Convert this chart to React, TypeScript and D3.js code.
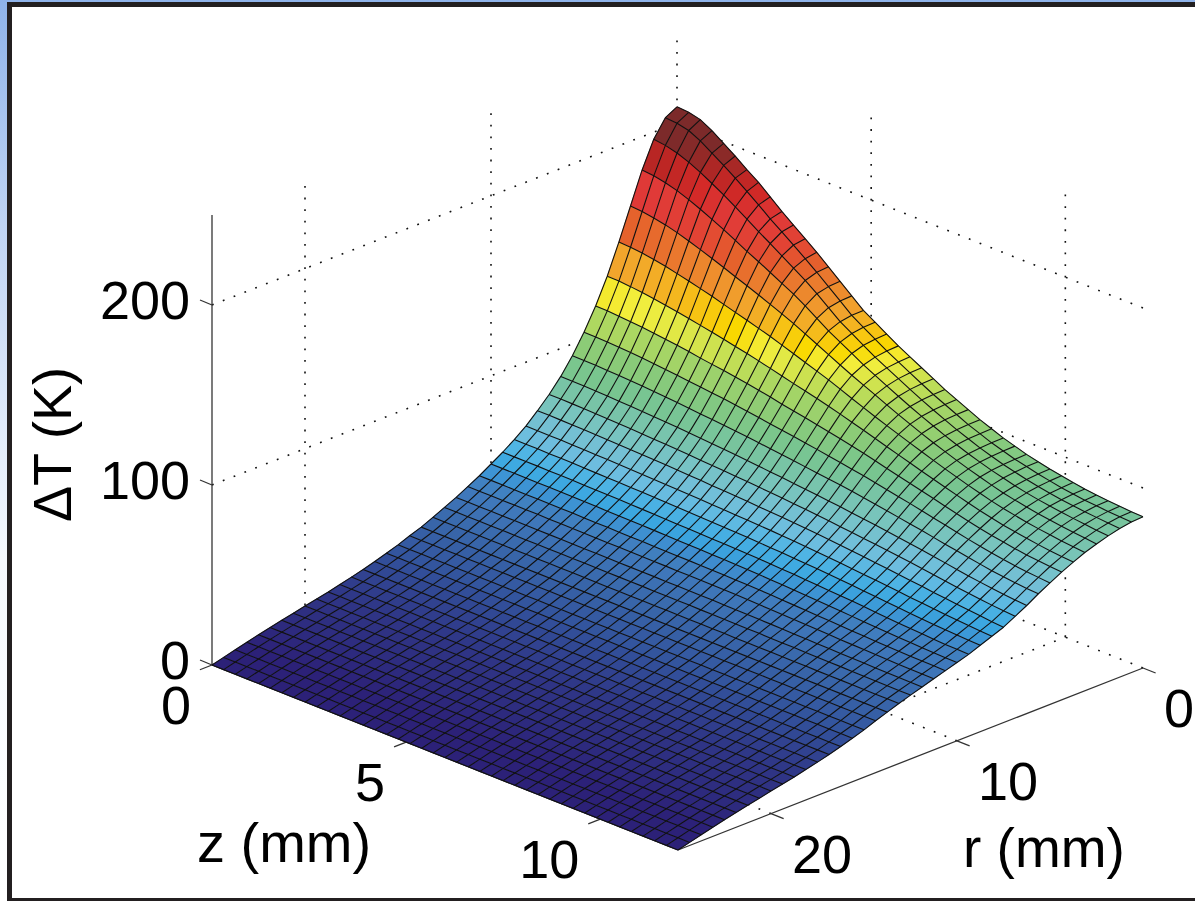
import { useEffect, useRef } from "react";
import * as d3 from "d3";

// radial positions of the mesh (mm), 41 nodes
const rValues = [0, 0.625, 1.25, 1.875, 2.5, 3.125, 3.75, 4.375, 5, 5.625, 6.25, 6.875, 7.5, 8.125, 8.75, 9.375, 10, 10.625, 11.25, 11.875, 12.5, 13.125, 13.75, 14.375, 15, 15.625, 16.25, 16.875, 17.5, 18.125, 18.75, 19.375, 20, 20.625, 21.25, 21.875, 22.5, 23.125, 23.75, 24.375, 25];
// depth positions of the mesh (mm), 41 nodes
const zValues = [0, 0.3, 0.6, 0.9, 1.2, 1.5, 1.8, 2.1, 2.4, 2.7, 3, 3.3, 3.6, 3.9, 4.2, 4.5, 4.8, 5.1, 5.4, 5.7, 6, 6.3, 6.6, 6.9, 7.2, 7.5, 7.8, 8.1, 8.4, 8.7, 9, 9.3, 9.6, 9.9, 10.2, 10.5, 10.8, 11.1, 11.4, 11.7, 12];

// dT, one row per z, first 22 radial nodes
const nearAxisRows = [
  [209, 205.5, 196, 181.5, 164, 146.5, 130, 116, 104, 93.5, 84.5, 77, 70.5, 64.5, 59.5, 55, 51, 47, 43.5, 40, 37, 34],
  [208.5, 205, 195.2, 180.8, 163.5, 146.2, 129.9, 115.9, 103.9, 93.4, 84.4, 77, 70.5, 64.5, 59.5, 55, 51, 47, 43.5, 40, 37, 34],
  [207, 203.5, 193.5, 179.5, 162.5, 145.5, 129.4, 115.5, 103.7, 93.3, 84.3, 76.9, 70.4, 64.4, 59.5, 55, 51, 47, 43.5, 40, 37, 34],
  [203.5, 200.3, 191, 177.7, 161.2, 144.5, 128.7, 115, 103.4, 93, 84.1, 76.8, 70.3, 64.4, 59.4, 55, 50.9, 46.9, 43.5, 40, 37, 34],
  [199, 196.1, 187.9, 175.3, 159.5, 143.3, 127.8, 114.5, 103, 92.8, 83.9, 76.6, 70.2, 64.3, 59.4, 54.9, 50.9, 46.9, 43.5, 40, 37, 34],
  [194.5, 191.8, 184.3, 172.5, 157.4, 141.8, 126.8, 113.8, 102.5, 92.4, 83.6, 76.4, 70, 64.2, 59.3, 54.9, 50.9, 46.9, 43.5, 40, 37, 34],
  [189.5, 187.3, 180.5, 169.5, 155.2, 140.3, 125.7, 113, 101.9, 92, 83.3, 76.1, 69.8, 64, 59.2, 54.8, 50.8, 46.9, 43.5, 40, 37, 34],
  [185, 182.5, 176.4, 166.3, 152.8, 138.6, 124.5, 112.2, 101.3, 91.6, 83, 75.9, 69.6, 63.9, 59, 54.7, 50.8, 46.8, 43.4, 39.9, 36.9, 34],
  [179.5, 177.6, 172.2, 162.9, 150.4, 136.9, 123.3, 111.3, 100.7, 91.1, 82.7, 75.6, 69.4, 63.7, 58.9, 54.6, 50.7, 46.8, 43.4, 39.9, 36.9, 34],
  [174, 172.4, 167.8, 159.4, 147.8, 135, 122, 110.2, 99.9, 90.6, 82.3, 75.3, 69.2, 63.5, 58.8, 54.5, 50.6, 46.7, 43.3, 39.9, 36.9, 34],
  [169, 167.8, 163.8, 156.2, 145.4, 133.1, 120.7, 109.3, 99.2, 90, 81.9, 75, 68.9, 63.3, 58.6, 54.4, 50.5, 46.6, 43.3, 39.8, 36.9, 34],
  [164, 163, 159.5, 152.8, 142.8, 131.3, 119.3, 108.4, 98.5, 89.4, 81.4, 74.7, 68.7, 63.1, 58.5, 54.2, 50.4, 46.6, 43.2, 39.8, 36.9, 34],
  [159, 158, 155.3, 149.3, 140.2, 129.4, 117.9, 107.4, 97.8, 88.9, 81, 74.3, 68.4, 62.9, 58.3, 54.1, 50.3, 46.5, 43.2, 39.8, 36.9, 34],
  [153.5, 153, 151, 145.9, 137.5, 127.4, 116.4, 106.4, 97, 88.2, 80.5, 73.9, 68.1, 62.7, 58.1, 53.9, 50.2, 46.4, 43.2, 39.8, 36.9, 34],
  [148, 147.6, 146.2, 142, 134.6, 125.2, 114.8, 105.2, 96.1, 87.6, 80, 73.5, 67.8, 62.4, 57.9, 53.8, 50.1, 46.4, 43.1, 39.7, 36.8, 33.9],
  [142.5, 142.2, 141, 137.6, 131.5, 123, 113.2, 104, 95.1, 87, 79.5, 73.1, 67.4, 62.2, 57.7, 53.6, 49.9, 46.3, 43.1, 39.7, 36.8, 33.9],
  [137, 136.8, 135.8, 133.2, 128.3, 120.7, 111.5, 102.6, 94.1, 86.2, 78.9, 72.7, 67.1, 61.9, 57.5, 53.5, 49.8, 46.2, 43, 39.7, 36.8, 33.9],
  [133, 132.7, 131.8, 129.5, 125.1, 118.5, 110, 101.4, 93.2, 85.4, 78.3, 72.3, 66.8, 61.7, 57.3, 53.3, 49.7, 46.1, 43, 39.7, 36.8, 33.9],
  [129, 128.7, 127.8, 125.8, 121.9, 116.2, 108.4, 100.2, 92.3, 84.7, 77.7, 71.8, 66.4, 61.4, 57.1, 53.1, 49.6, 46.1, 42.9, 39.6, 36.7, 33.9],
  [125, 124.7, 123.8, 122, 118.8, 113.6, 106.6, 98.9, 91.3, 83.9, 77.1, 71.3, 66, 61.1, 56.8, 53, 49.4, 46, 42.9, 39.6, 36.7, 33.9],
  [121.5, 121.2, 120.4, 118.8, 115.9, 111, 104.8, 97.6, 90.3, 83.1, 76.4, 70.8, 65.6, 60.8, 56.6, 52.8, 49.3, 45.9, 42.8, 39.6, 36.7, 33.9],
  [118, 117.7, 117, 115.5, 113, 108.5, 102.9, 96.2, 89.2, 82.3, 75.8, 70.3, 65.2, 60.5, 56.3, 52.6, 49.1, 45.8, 42.8, 39.5, 36.7, 33.9],
  [114.5, 114.2, 113.6, 112.3, 110, 106, 101, 94.8, 88.1, 81.5, 75.1, 69.7, 64.8, 60.1, 56, 52.3, 48.9, 45.6, 42.7, 39.5, 36.6, 33.8],
  [111, 110.8, 110.3, 109.2, 107.2, 103.6, 99, 93.3, 87, 80.7, 74.4, 69.1, 64.3, 59.7, 55.7, 52, 48.7, 45.5, 42.6, 39.4, 36.6, 33.8],
  [108, 107.8, 107.3, 106.3, 104.5, 101.3, 97, 91.7, 85.9, 79.8, 73.7, 68.5, 63.8, 59.3, 55.3, 51.7, 48.4, 45.3, 42.4, 39.3, 36.5, 33.8],
  [105, 104.8, 104.4, 103.5, 101.8, 99, 95, 90, 84.6, 78.8, 72.9, 67.8, 63.2, 58.8, 54.9, 51.4, 48.1, 45.1, 42.2, 39.2, 36.5, 33.8],
  [102, 101.8, 101.5, 100.7, 99.3, 96.8, 93.1, 88.4, 83.3, 77.8, 72.1, 67.1, 62.6, 58.3, 54.5, 51, 47.8, 44.8, 42, 39.1, 36.4, 33.7],
  [99.5, 99.3, 99, 98.2, 96.9, 94.6, 91.1, 86.8, 82, 76.7, 71.3, 66.4, 61.9, 57.8, 54.1, 50.6, 47.4, 44.5, 41.8, 39, 36.4, 33.7],
  [97, 96.8, 96.5, 95.8, 94.6, 92.4, 89.2, 85.2, 80.7, 75.6, 70.4, 65.7, 61.3, 57.2, 53.6, 50.2, 47.1, 44.2, 41.6, 38.8, 36.3, 33.7],
  [95, 94.8, 94.4, 93.7, 92.5, 90.4, 87.3, 83.6, 79.3, 74.5, 69.5, 65, 60.6, 56.6, 53.1, 49.8, 46.7, 43.9, 41.4, 38.7, 36.2, 33.7],
  [93, 92.8, 92.4, 91.7, 90.5, 88.4, 85.5, 81.9, 77.9, 73.4, 68.6, 64.2, 59.9, 56, 52.5, 49.4, 46.4, 43.6, 41.2, 38.6, 36.2, 33.6],
  [91.5, 91.3, 90.8, 90, 88.6, 86.6, 83.7, 80.3, 76.5, 72.2, 67.7, 63.4, 59.2, 55.4, 52, 48.9, 46, 43.3, 41, 38.4, 36.1, 33.6],
  [90, 89.8, 89.2, 88.3, 86.8, 84.8, 82, 78.7, 75.1, 71, 66.7, 62.5, 58.4, 54.8, 51.4, 48.4, 45.6, 43, 40.7, 38.3, 36, 33.6],
  [88.8, 88.5, 87.9, 86.9, 85.4, 83.3, 80.5, 77.2, 73.7, 69.9, 65.7, 61.6, 57.7, 54.1, 50.9, 47.9, 45.2, 42.7, 40.5, 38.1, 35.9, 33.5],
  [87.6, 87.3, 86.7, 85.7, 84.1, 82, 79.1, 75.9, 72.4, 68.7, 64.6, 60.7, 56.9, 53.5, 50.3, 47.4, 44.9, 42.4, 40.3, 38, 35.9, 33.5],
  [86.6, 86.3, 85.7, 84.7, 83, 80.8, 78, 74.8, 71.3, 67.6, 63.6, 59.8, 56.2, 52.9, 49.8, 47, 44.6, 42.2, 40.1, 37.9, 35.8, 33.5],
  [85.8, 85.5, 84.9, 83.8, 82.1, 79.8, 77, 73.7, 70.2, 66.5, 62.7, 59, 55.5, 52.3, 49.3, 46.6, 44.3, 42, 40, 37.8, 35.7, 33.5],
  [85.2, 84.9, 84.2, 83, 81.2, 78.9, 76, 72.8, 69.3, 65.7, 61.9, 58.3, 54.8, 51.8, 48.9, 46.2, 44, 41.8, 39.8, 37.7, 35.6, 33.4],
  [84.7, 84.4, 83.6, 82.3, 80.4, 78.1, 75.2, 72.1, 68.6, 65, 61.1, 57.6, 54.2, 51.3, 48.6, 45.9, 43.8, 41.7, 39.7, 37.6, 35.6, 33.4],
  [84.3, 84, 83, 81.6, 79.7, 77.4, 74.5, 71.5, 68, 64.4, 60.5, 57, 53.5, 50.9, 48.3, 45.7, 43.6, 41.6, 39.6, 37.5, 35.5, 33.4],
  [84, 83.6, 82.6, 81, 79, 76.8, 74, 71, 67.5, 64, 60, 56.5, 53, 50.5, 48, 45.5, 43.5, 41.5, 39.5, 37.5, 35.5, 33.4],
];
// beyond r = 13.75 mm the surface no longer changes with z
const farRadiusValues = [31.1, 28.8, 26.3, 24.2, 22.1, 20.2, 18.5, 16.9, 15.3, 13.9, 12.6, 11.1, 9.7, 8.2, 6.7, 5.1, 3.4, 1.7, 0];

const colorStops = [4, 15, 25, 35, 42, 45, 48, 52, 57, 61, 67, 73, 80, 88, 98, 110, 122, 126, 130, 134, 138, 150, 155, 163, 172, 180, 188, 195, 200];
const colorValues = ["#2c2178", "#2f3585", "#33549e", "#3a6aad", "#3f78bb", "#4080c0", "#3e8ed0", "#3aa6e0", "#4eb4e4", "#6cbde0", "#74c0d4", "#78c4c0", "#78c4a8", "#78c590", "#8acb78", "#aed860", "#f3ee3c", "#f9d800", "#f8c810", "#f4b520", "#f2a62c", "#ea7a2e", "#e5622c", "#e24434", "#e03a38", "#d42a28", "#bb2624", "#8c2a28", "#7c2a2a"];

const heightTicks = [0, 100, 200];
const zTicks = [0, 5, 10];
const rTicks = [0, 10, 20];

const FONT = "'Liberation Sans', Arial, sans-serif";

const App = () => {
  const chartRef = useRef<SVGSVGElement>(null);

  useEffect(() => {
    const svg = d3.select(chartRef.current);
    svg.selectAll("*").remove();

    const gradient = svg.append("defs").append("linearGradient").attr("id", "slide").attr("x2", 0).attr("y2", 1);
    gradient.append("stop").attr("offset", 0).attr("stop-color", "#8fb3ea");
    gradient.append("stop").attr("offset", 0.25).attr("stop-color", "#c0d4f4");
    gradient.append("stop").attr("offset", 0.62).attr("stop-color", "#f6f9fe");
    gradient.append("stop").attr("offset", 1).attr("stop-color", "#ffffff");

    svg.append("rect").attr("width", 1195).attr("height", 901).attr("fill", "url(#slide)");
    svg.append("rect").attr("x", 7).attr("y", 2).attr("width", 1188).attr("height", 899).attr("fill", "#231f20");
    svg.append("rect").attr("x", 12).attr("y", 7).attr("width", 1183).attr("height", 891).attr("fill", "#fff");

    // oblique view: each data axis moves the screen point by its own scale
    const originX = 677;
    const originY = 483;
    const rToX = d3.scaleLinear().domain([0, 25]).range([0, -465]);
    const rToY = d3.scaleLinear().domain([0, 25]).range([0, 182]);
    const zToX = d3.scaleLinear().domain([0, 12]).range([0, 466]);
    const zToY = d3.scaleLinear().domain([0, 12]).range([0, 185]);
    const heightToY = d3.scaleLinear().domain([0, 250]).range([0, -450]);

    const project = (r: number, z: number, h: number): [number, number] => [
      originX + rToX(r) + zToX(z),
      originY + rToY(r) + zToY(z) + heightToY(h),
    ];
    const segment = d3.line();
    const color = d3.scaleLinear<string>().domain(colorStops).range(colorValues).clamp(true);
    const zTop = 250;
    const rMax = 25;
    const zMax = 12;

    // dotted box grid, drawn first so the surface hides it
    const gridLines: [number, number, number, number, number, number][] = [];
    [0, ...rTicks.slice(1)].forEach((r) => gridLines.push([r, 0, 0, r, 0, zTop]));
    zTicks.slice(1).forEach((z) => gridLines.push([0, z, 0, 0, z, zTop]));
    heightTicks.forEach((h) => {
      gridLines.push([rMax, 0, h, 0, 0, h]);
      gridLines.push([0, zMax, h, 0, 0, h]);
    });
    zTicks.slice(1).forEach((z) => gridLines.push([rMax, z, 0, 0, z, 0]));
    rTicks.slice(1).forEach((r) => gridLines.push([r, zMax, 0, r, 0, 0]));

    svg
      .append("g")
      .selectAll("path")
      .data(gridLines)
      .join("path")
      .attr("d", (d) => segment([project(d[0], d[1], d[2]), project(d[3], d[4], d[5])]))
      .attr("fill", "none")
      .attr("stroke", "#111")
      .attr("stroke-width", 1.6)
      .attr("stroke-dasharray", "1.8 9.8");

    // solid axes
    const axes = svg.append("g").attr("stroke", "#333").attr("stroke-width", 1.3).attr("fill", "none");
    axes.append("path").attr("d", segment([project(rMax, 0, 0), project(rMax, 0, zTop)]));
    axes.append("path").attr("d", segment([project(rMax, 0, 0), project(rMax, zMax, 0)]));
    axes.append("path").attr("d", segment([project(rMax, zMax, 0), project(0, zMax, 0)]));

    // ticks point away from the box, along the neighbouring axis
    const tickLength = 0.65;
    heightTicks.forEach((h) => {
      const start = project(rMax, 0, h);
      axes.append("path").attr("d", segment([start, [start[0] - 12, start[1] - 5]]));
    });
    zTicks.forEach((z) => {
      axes.append("path").attr("d", segment([project(rMax, z, 0), project(rMax + tickLength, z, 0)]));
    });
    rTicks.forEach((r) => {
      axes.append("path").attr("d", segment([project(r, zMax, 0), project(r, zMax + tickLength / 2, 0)]));
    });

    // surface cells, back to front
    const heights = nearAxisRows.map((row) => [...row, ...farRadiusValues]);
    const cells: { path: [number, number][]; mean: number; order: number }[] = [];
    for (let k = 0; k < zValues.length - 1; k++) {
      for (let i = 0; i < rValues.length - 1; i++) {
        const corners = [
          [i, k],
          [i + 1, k],
          [i + 1, k + 1],
          [i, k + 1],
        ];
        cells.push({
          path: corners.map(([a, b]) => project(rValues[a], zValues[b], heights[b][a])),
          mean: d3.mean(corners, ([a, b]) => heights[b][a]) as number,
          order: i + k,
        });
      }
    }
    cells.sort((a, b) => a.order - b.order);

    svg
      .append("g")
      .selectAll("path")
      .data(cells)
      .join("path")
      .attr("d", (d) => segment(d.path) + "Z")
      .attr("fill", (d) => color(d.mean))
      .attr("stroke", (d) => color(d.mean))
      .attr("stroke-width", 0.6);

    // mesh lines on top so both directions get the same weight
    const meshLines = [
      ...zValues.map((z, k) => rValues.map((r, i) => project(r, z, heights[k][i]))),
      ...rValues.map((r, i) => zValues.map((z, k) => project(r, z, heights[k][i]))),
    ];
    svg
      .append("g")
      .selectAll("path")
      .data(meshLines)
      .join("path")
      .attr("d", (d) => segment(d))
      .attr("fill", "none")
      .attr("stroke", "#111")
      .attr("stroke-width", 1.1)
      .attr("stroke-linejoin", "round");

    // labels
    const labels = svg.append("g").attr("font-family", FONT).attr("font-size", 54).attr("fill", "#000");
    heightTicks.forEach((h) => {
      const p = project(rMax, 0, h);
      labels.append("text").attr("x", 190).attr("y", p[1] + 14).attr("text-anchor", "end").text(h);
    });
    zTicks.forEach((z) => {
      const p = project(rMax, z, 0);
      labels.append("text").attr("x", p[0] - 21).attr("y", p[1] + 59).attr("text-anchor", "end").text(z);
    });
    rTicks.forEach((r) => {
      const p = project(r, zMax, 0);
      labels.append("text").attr("x", p[0] + 21).attr("y", p[1] + 59).text(r);
    });
    labels.append("text").attr("x", 197).attr("y", 862).attr("font-size", 56).text("z (mm)");
    labels.append("text").attr("x", 963).attr("y", 867).attr("font-size", 55).text("r (mm)");
    labels.append("text").attr("transform", "translate(71,522) rotate(-90)").text("ΔT (K)");
  }, []);

  return <svg ref={chartRef} width={1195} height={901} style={{ position: "absolute", left: 0, top: 0, display: "block" }}></svg>;
};

export default App;
